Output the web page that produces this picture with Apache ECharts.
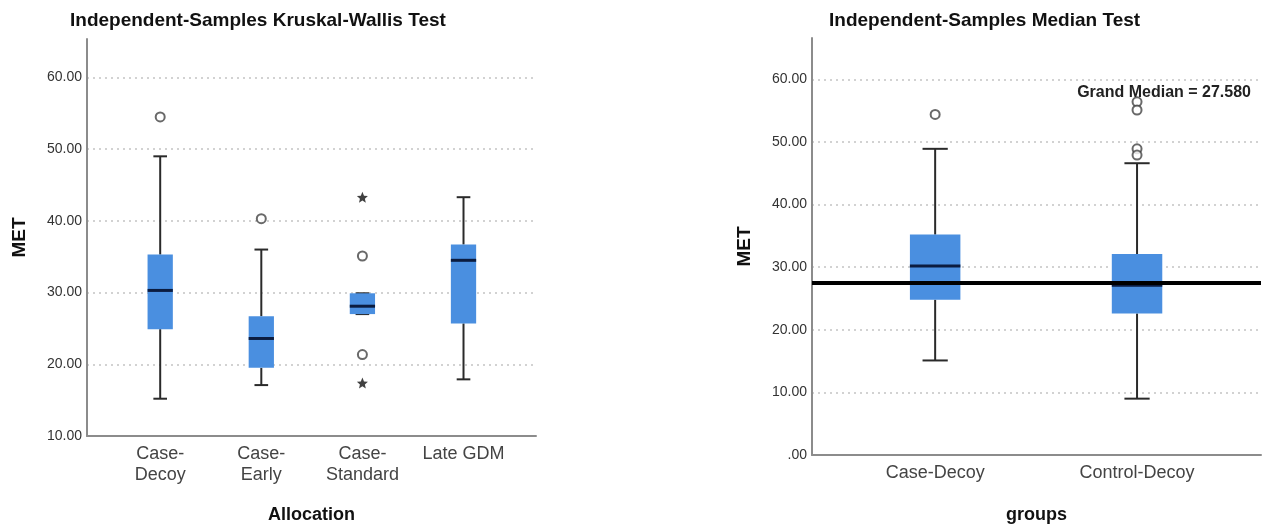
<!DOCTYPE html>
<html><head><meta charset="utf-8">
<script src="https://cdn.jsdelivr.net/npm/echarts@6/dist/echarts.min.js"></script>
<style>html,body{margin:0;padding:0;background:#fff}#c{width:1263px;height:529px}</style>
</head><body><div id="c"></div>
<script>
// ---- Left: Independent-Samples Kruskal-Wallis Test ----
const kwCategories = ['Case-\nDecoy', 'Case-\nEarly', 'Case-\nStandard', 'Late GDM'];
const kwLow    = [15.2, 17.1, 27.0, 17.9];
const kwQ1     = [24.9, 19.5, 27.0, 25.7];
const kwMedian = [30.3, 23.6, 28.1, 34.5];
const kwQ3     = [35.3, 26.7, 29.9, 36.7];
const kwHigh   = [49.0, 36.0, 29.9, 43.3];
const kwOutliers = [[1, 54.5], [2, 40.3], [3, 35.1], [3, 21.35]];
const kwExtremes = [[3, 43.3], [3, 17.4]];

// ---- Right: Independent-Samples Median Test ----
const mtCategories = ['Case-Decoy', 'Control-Decoy'];
const mtLow    = [15.1, 9.0];
const mtQ1     = [24.8, 22.6];
const mtMedian = [30.2, 27.1];
const mtQ3     = [35.2, 32.1];
const mtHigh   = [48.9, 46.6];
const mtOutliers = [[1, 54.4], [2, 56.4], [2, 55.1], [2, 48.9], [2, 47.9]];
const grandMedian = 27.58;

const FONT = '"Liberation Sans", Arial, sans-serif';
const starPath = 'path://M12 2 L14.9 8.9 L22 9.3 L16.5 14 L18.2 21 L12 17.3 L5.8 21 L7.5 14 L2 9.3 L9.1 8.9 Z';

function boxRender(boxFrac, capFrac) {
  return function (params, api) {
    const x = api.value(0);
    const lo = api.coord([x, api.value(1)]);
    const q1 = api.coord([x, api.value(2)]);
    const md = api.coord([x, api.value(3)]);
    const q3 = api.coord([x, api.value(4)]);
    const hi = api.coord([x, api.value(5)]);
    const unit = api.size([1, 0])[0];
    const bw = unit * boxFrac, cw = unit * capFrac;
    const cx = lo[0];
    const ws = { stroke: '#2a2a2a', lineWidth: 2 };
    return { type: 'group', children: [
      { type: 'line', shape: { x1: cx, y1: hi[1], x2: cx, y2: q3[1] }, style: ws },
      { type: 'line', shape: { x1: cx, y1: q1[1], x2: cx, y2: lo[1] }, style: ws },
      { type: 'line', shape: { x1: cx - cw / 2, y1: hi[1], x2: cx + cw / 2, y2: hi[1] }, style: ws },
      { type: 'line', shape: { x1: cx - cw / 2, y1: lo[1], x2: cx + cw / 2, y2: lo[1] }, style: ws },
      { type: 'rect', shape: { x: cx - bw / 2, y: q3[1], width: bw, height: q1[1] - q3[1] }, style: { fill: '#4a8fe0' } },
      { type: 'line', shape: { x1: cx - bw / 2, y1: md[1], x2: cx + bw / 2, y2: md[1] }, style: { stroke: '#0b1c40', lineWidth: 3 } }
    ]};
  };
}

function yAxisCfg(gridIndex, min, max) {
  return {
    type: 'value', gridIndex, min, max, interval: 10,
    name: 'MET', nameLocation: 'middle', nameGap: 58,
    nameTextStyle: { fontFamily: FONT, fontSize: 19, fontWeight: 'bold', color: '#111' },
    axisLine: { show: true, lineStyle: { color: '#8c8c8c', width: 2 } },
    axisTick: { show: false },
    axisLabel: { margin: 5, fontFamily: FONT, fontSize: 14, color: '#333', showMaxLabel: false,
      formatter: v => v === 0 ? '.00' : v.toFixed(2) },
    splitLine: { show: true, showMaxLine: false, showMinLine: false,
      lineStyle: { color: '#c4c4c4', width: 1.5, type: [2, 4] } }
  };
}

const kwBoxData = kwCategories.map((c, i) => [i + 1, kwLow[i], kwQ1[i], kwMedian[i], kwQ3[i], kwHigh[i]]);
const mtBoxData = mtCategories.map((c, i) => [i + 1, mtLow[i], mtQ1[i], mtMedian[i], mtQ3[i], mtHigh[i]]);

const option = {
  animation: false,
  backgroundColor: '#fff',
  title: [
    { text: 'Independent-Samples Kruskal-Wallis Test', left: 70, top: 11, padding: 0,
      textStyle: { fontFamily: FONT, fontSize: 19, fontWeight: 'bold', color: '#111' } },
    { text: 'Independent-Samples Median Test', left: 829, top: 11, padding: 0,
      textStyle: { fontFamily: FONT, fontSize: 19, fontWeight: 'bold', color: '#111' } }
  ],
  grid: [
    { left: 87, right: 727, top: 39, bottom: 91.4 },
    { left: 812, right: 2, top: 38, bottom: 71.5 }
  ],
  xAxis: [
    { type: 'value', gridIndex: 0, min: 0.276, max: 4.717,
      name: 'Allocation', nameLocation: 'middle', nameGap: 70,
      nameTextStyle: { fontFamily: FONT, fontSize: 18, fontWeight: 'bold', color: '#111' },
      axisLine: { show: true, lineStyle: { color: '#8c8c8c', width: 2 } },
      axisTick: { show: false }, splitLine: { show: false },
      axisLabel: { customValues: [1, 2, 3, 4], margin: 8, fontFamily: FONT, fontSize: 18, color: '#444', lineHeight: 21,
        formatter: v => kwCategories[Math.round(v) - 1] } },
    { type: 'value', gridIndex: 1, min: 0.39, max: 2.614,
      name: 'groups', nameLocation: 'middle', nameGap: 51,
      nameTextStyle: { fontFamily: FONT, fontSize: 18, fontWeight: 'bold', color: '#111' },
      axisLine: { show: true, lineStyle: { color: '#8c8c8c', width: 2 } },
      axisTick: { show: false }, splitLine: { show: false },
      axisLabel: { customValues: [1, 2], margin: 9, fontFamily: FONT, fontSize: 18, color: '#444',
        formatter: v => mtCategories[Math.round(v) - 1] } }
  ],
  yAxis: [yAxisCfg(0, 10, 65.36), yAxisCfg(1, 0, 66.6)],
  series: [
    { type: 'custom', xAxisIndex: 0, yAxisIndex: 0, renderItem: boxRender(0.25, 0.135),
      encode: { x: 0, y: [1, 2, 3, 4, 5] }, data: kwBoxData, z: 2 },
    { type: 'scatter', xAxisIndex: 0, yAxisIndex: 0, data: kwOutliers, symbol: 'circle', symbolSize: 9,
      itemStyle: { color: '#fff', borderColor: '#444', borderWidth: 2 }, z: 5 },
    { type: 'scatter', xAxisIndex: 0, yAxisIndex: 0, data: kwExtremes, symbol: starPath, symbolSize: 11,
      itemStyle: { color: '#111' }, z: 5 },
    { type: 'custom', xAxisIndex: 1, yAxisIndex: 1, renderItem: boxRender(0.25, 0.125),
      encode: { x: 0, y: [1, 2, 3, 4, 5] }, data: mtBoxData, z: 2 },
    { type: 'scatter', xAxisIndex: 1, yAxisIndex: 1, data: mtOutliers, symbol: 'circle', symbolSize: 9,
      itemStyle: { color: '#fff', borderColor: '#444', borderWidth: 2 }, z: 5,
      markLine: { silent: true, symbol: 'none', animation: false, label: { show: false },
        lineStyle: { color: '#000', width: 4, type: 'solid' },
        data: [{ yAxis: grandMedian }] } }
  ],
  graphic: [
    { type: 'text', right: 12, top: 85, z: 10,
      style: { text: 'Grand Median = ' + grandMedian.toFixed(3), font: 'bold 16px ' + FONT, fill: '#222' } }
  ]
};
echarts.init(document.getElementById('c')).setOption(option);
</script></body></html>
